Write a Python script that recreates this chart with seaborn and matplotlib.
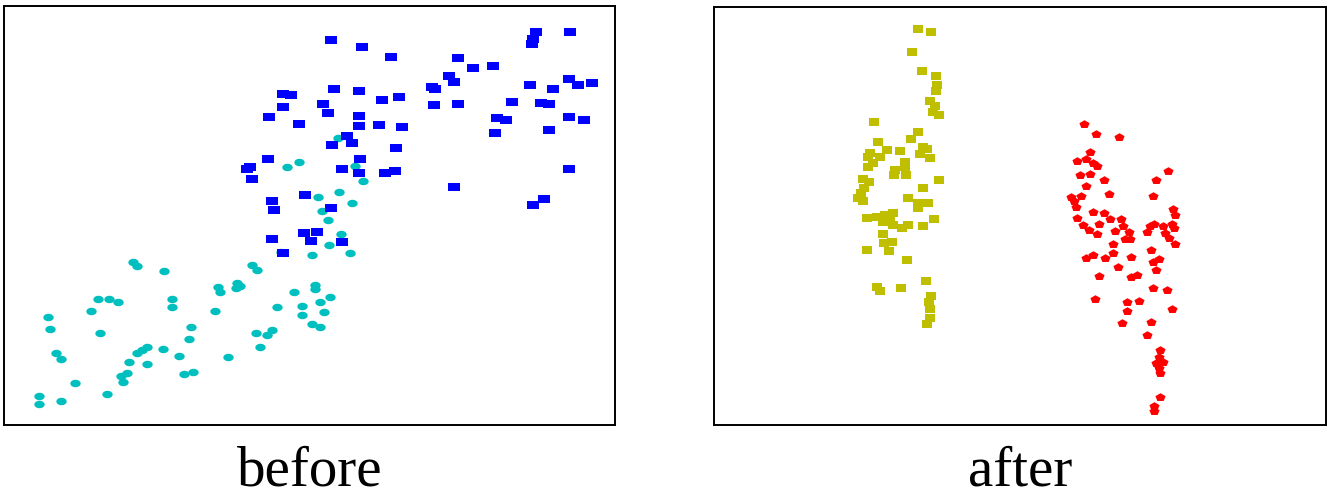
import numpy as np
import pandas as pd
import matplotlib
matplotlib.use("Agg")
import matplotlib.pyplot as plt
import seaborn as sns

# ---------------- data ----------------
# "before" panel, blue squares: (x, y) with y measured downward from top
before_blue_x = [283, 291, 283, 269, 299, 268, 250, 247, 252, 305, 272, 274,
                 331, 362, 391, 458, 473, 493, 536, 533, 532, 570, 449, 454,
                 432, 435, 530, 553, 569, 578, 592, 334, 359, 382, 399, 323,
                 328, 434, 458, 512, 541, 549, 497, 506, 495, 569, 584, 549,
                 359, 359, 379, 402, 347, 352, 332, 396, 360, 342, 359, 385,
                 395, 454, 569, 544, 533, 331, 304, 317, 311, 342, 272, 283]
before_blue_yd = [94, 95, 107, 117, 124, 159, 167, 169, 179, 195, 201, 210,
                  40, 47, 57, 58, 68, 66, 32, 39, 44, 32, 76, 82,
                  87, 89, 85, 89, 79, 85, 83, 89, 91, 100, 97, 104,
                  113, 105, 104, 102, 103, 104, 118, 120, 133, 117, 120, 130,
                  116, 126, 125, 127, 136, 143, 145, 148, 159, 169, 173, 173,
                  171, 187, 169, 199, 205, 208, 233, 232, 241, 242, 239, 253]

# "before" panel, cyan dots
before_cyan_x = [287, 299, 338, 355, 363, 339, 318, 352, 322, 328, 341, 329,
                 350, 312, 281, 315, 315, 330, 320, 302, 324, 302, 312, 320,
                 133, 137, 164, 252, 257, 218, 220, 237, 240, 236, 294, 172,
                 172, 98, 109, 118, 91, 215, 277, 48, 50, 100, 191, 189,
                 147, 142, 137, 163, 256, 267, 272, 260, 56, 61, 179, 228,
                 129, 147, 127, 121, 123, 184, 193, 75, 107, 39, 39, 61]
before_cyan_yd = [167, 162, 138, 166, 181, 192, 197, 203, 211, 220, 234, 245,
                  253, 255, 252, 285, 289, 297, 302, 306, 312, 315, 324, 327,
                  262, 266, 271, 265, 270, 287, 292, 283, 286, 288, 292, 299,
                  307, 299, 299, 302, 311, 311, 307, 317, 329, 333, 327, 339,
                  347, 350, 353, 349, 333, 335, 330, 347, 353, 359, 356, 357,
                  362, 364, 373, 376, 382, 374, 372, 383, 394, 396, 404, 401]

# "after" panel, olive squares
after_olive_x = [918, 931, 912, 922, 936, 937, 936, 930, 935, 933, 939, 874,
                 918, 911, 878, 887, 900, 870, 923, 927, 920, 868, 880, 905,
                 930, 873, 868, 905, 895, 894, 906, 863, 869, 939, 864, 923,
                 861, 858, 863, 908, 918, 928, 918, 867, 877, 885, 893, 883,
                 890, 893, 902, 908, 923, 934, 883, 884, 892, 867, 889, 907,
                 926, 877, 880, 901, 931, 929, 930, 930, 927]
after_olive_yd = [29, 32, 52, 71, 76, 85, 91, 101, 106, 112, 115, 122,
                  132, 139, 142, 150, 151, 153, 147, 149, 154, 157, 157, 162,
                  158, 163, 167, 167, 170, 175, 175, 179, 182, 180, 188, 188,
                  193, 198, 201, 198, 203, 203, 208, 218, 217, 215, 213, 222,
                  220, 225, 228, 225, 226, 219, 234, 243, 242, 250, 251, 260,
                  281, 287, 291, 288, 296, 302, 309, 318, 324]

# "after" panel, red pentagons
after_red_x = [1084, 1096, 1119, 1090, 1077, 1086, 1093, 1097, 1168, 1156, 1080, 1090,
               1104, 1086, 1109, 1153, 1071, 1081, 1074, 1076, 1093, 1104, 1173, 1175,
               1077, 1110, 1121, 1083, 1099, 1123, 1089, 1097, 1115, 1129, 1147, 1150,
               1154, 1163, 1172, 1174, 1165, 1169, 1175, 1125, 1130, 1113, 1151, 1093,
               1086, 1105, 1113, 1131, 1159, 1153, 1118, 1156, 1099, 1131, 1137, 1153,
               1167, 1095, 1127, 1139, 1172, 1127, 1122, 1151, 1147, 1160, 1159, 1163,
               1156, 1159, 1160, 1160, 1154, 1154]
after_red_yd = [124, 134, 137, 152, 161, 159, 163, 166, 171, 180, 175, 174,
                180, 186, 194, 196, 197, 196, 201, 207, 212, 213, 209, 215,
                218, 219, 219, 225, 224, 226, 230, 234, 231, 232, 232, 226,
                224, 226, 224, 228, 233, 238, 244, 239, 239, 244, 250, 255,
                258, 258, 253, 257, 259, 262, 267, 270, 276, 277, 275, 288,
                290, 299, 302, 301, 309, 311, 323, 322, 335, 350, 357, 362,
                363, 368, 373, 397, 406, 411]

panel_titles = ["before", "after"]

TOP = 430  # convert downward pixel readings into upward y values


def up(vals):
    return [TOP - v for v in vals]


# ---------------- marker shapes ----------------
def rect_marker(ratio):
    return [(-1, -ratio), (1, -ratio), (1, ratio), (-1, ratio), (-1, -ratio)]


def ellipse_marker(ratio, n=24):
    t = np.linspace(0, 2 * np.pi, n + 1)
    return list(zip(np.cos(t), ratio * np.sin(t)))


def pentagon_marker(ratio):
    t = np.pi / 2 + np.arange(6) * 2 * np.pi / 5
    return list(zip(np.cos(t), ratio * np.sin(t)))


# ---------------- figure ----------------
sns.set_theme(style="white")
plt.rcParams["font.family"] = ["Liberation Serif", "DejaVu Serif"]

W, H = 1330, 499
fig = plt.figure(figsize=(W / 100, H / 100), dpi=100)

ax1 = fig.add_axes([4 / W, 1 - 425 / H, (615 - 4) / W, (425 - 6) / H])
ax2 = fig.add_axes([714 / W, 1 - 425 / H, (1326 - 714) / W, (425 - 7) / H])

sns.scatterplot(x=before_cyan_x, y=up(before_cyan_yd), ax=ax1,
                marker=ellipse_marker(0.72), s=56, color="#00BFBF",
                linewidth=0)
sns.scatterplot(x=before_blue_x, y=up(before_blue_yd), ax=ax1,
                marker=rect_marker(0.72), s=80, color="#0000FF",
                linewidth=0)

sns.scatterplot(x=after_olive_x, y=up(after_olive_yd), ax=ax2,
                marker=rect_marker(0.72), s=62, color="#BFBF00",
                linewidth=0)
sns.scatterplot(x=after_red_x, y=up(after_red_yd), ax=ax2,
                marker=pentagon_marker(0.8), s=54, color="#FF0000",
                linewidth=0)

ax1.set_xlim(4, 615)
ax1.set_ylim(TOP - 425, TOP - 6)
ax2.set_xlim(714, 1326)
ax2.set_ylim(TOP - 425, TOP - 7)

for ax, title in zip([ax1, ax2], panel_titles):
    ax.set_xticks([])
    ax.set_yticks([])
    ax.set_facecolor("white")
    for sp in ax.spines.values():
        sp.set_visible(True)
        sp.set_color("black")
        sp.set_linewidth(1.4)
    ax.text(0.5, -(486 - 425) / 419, title, transform=ax.transAxes,
            ha="center", va="baseline", fontsize=41, color="black")

fig.savefig("out.png", dpi=100, facecolor="white")
